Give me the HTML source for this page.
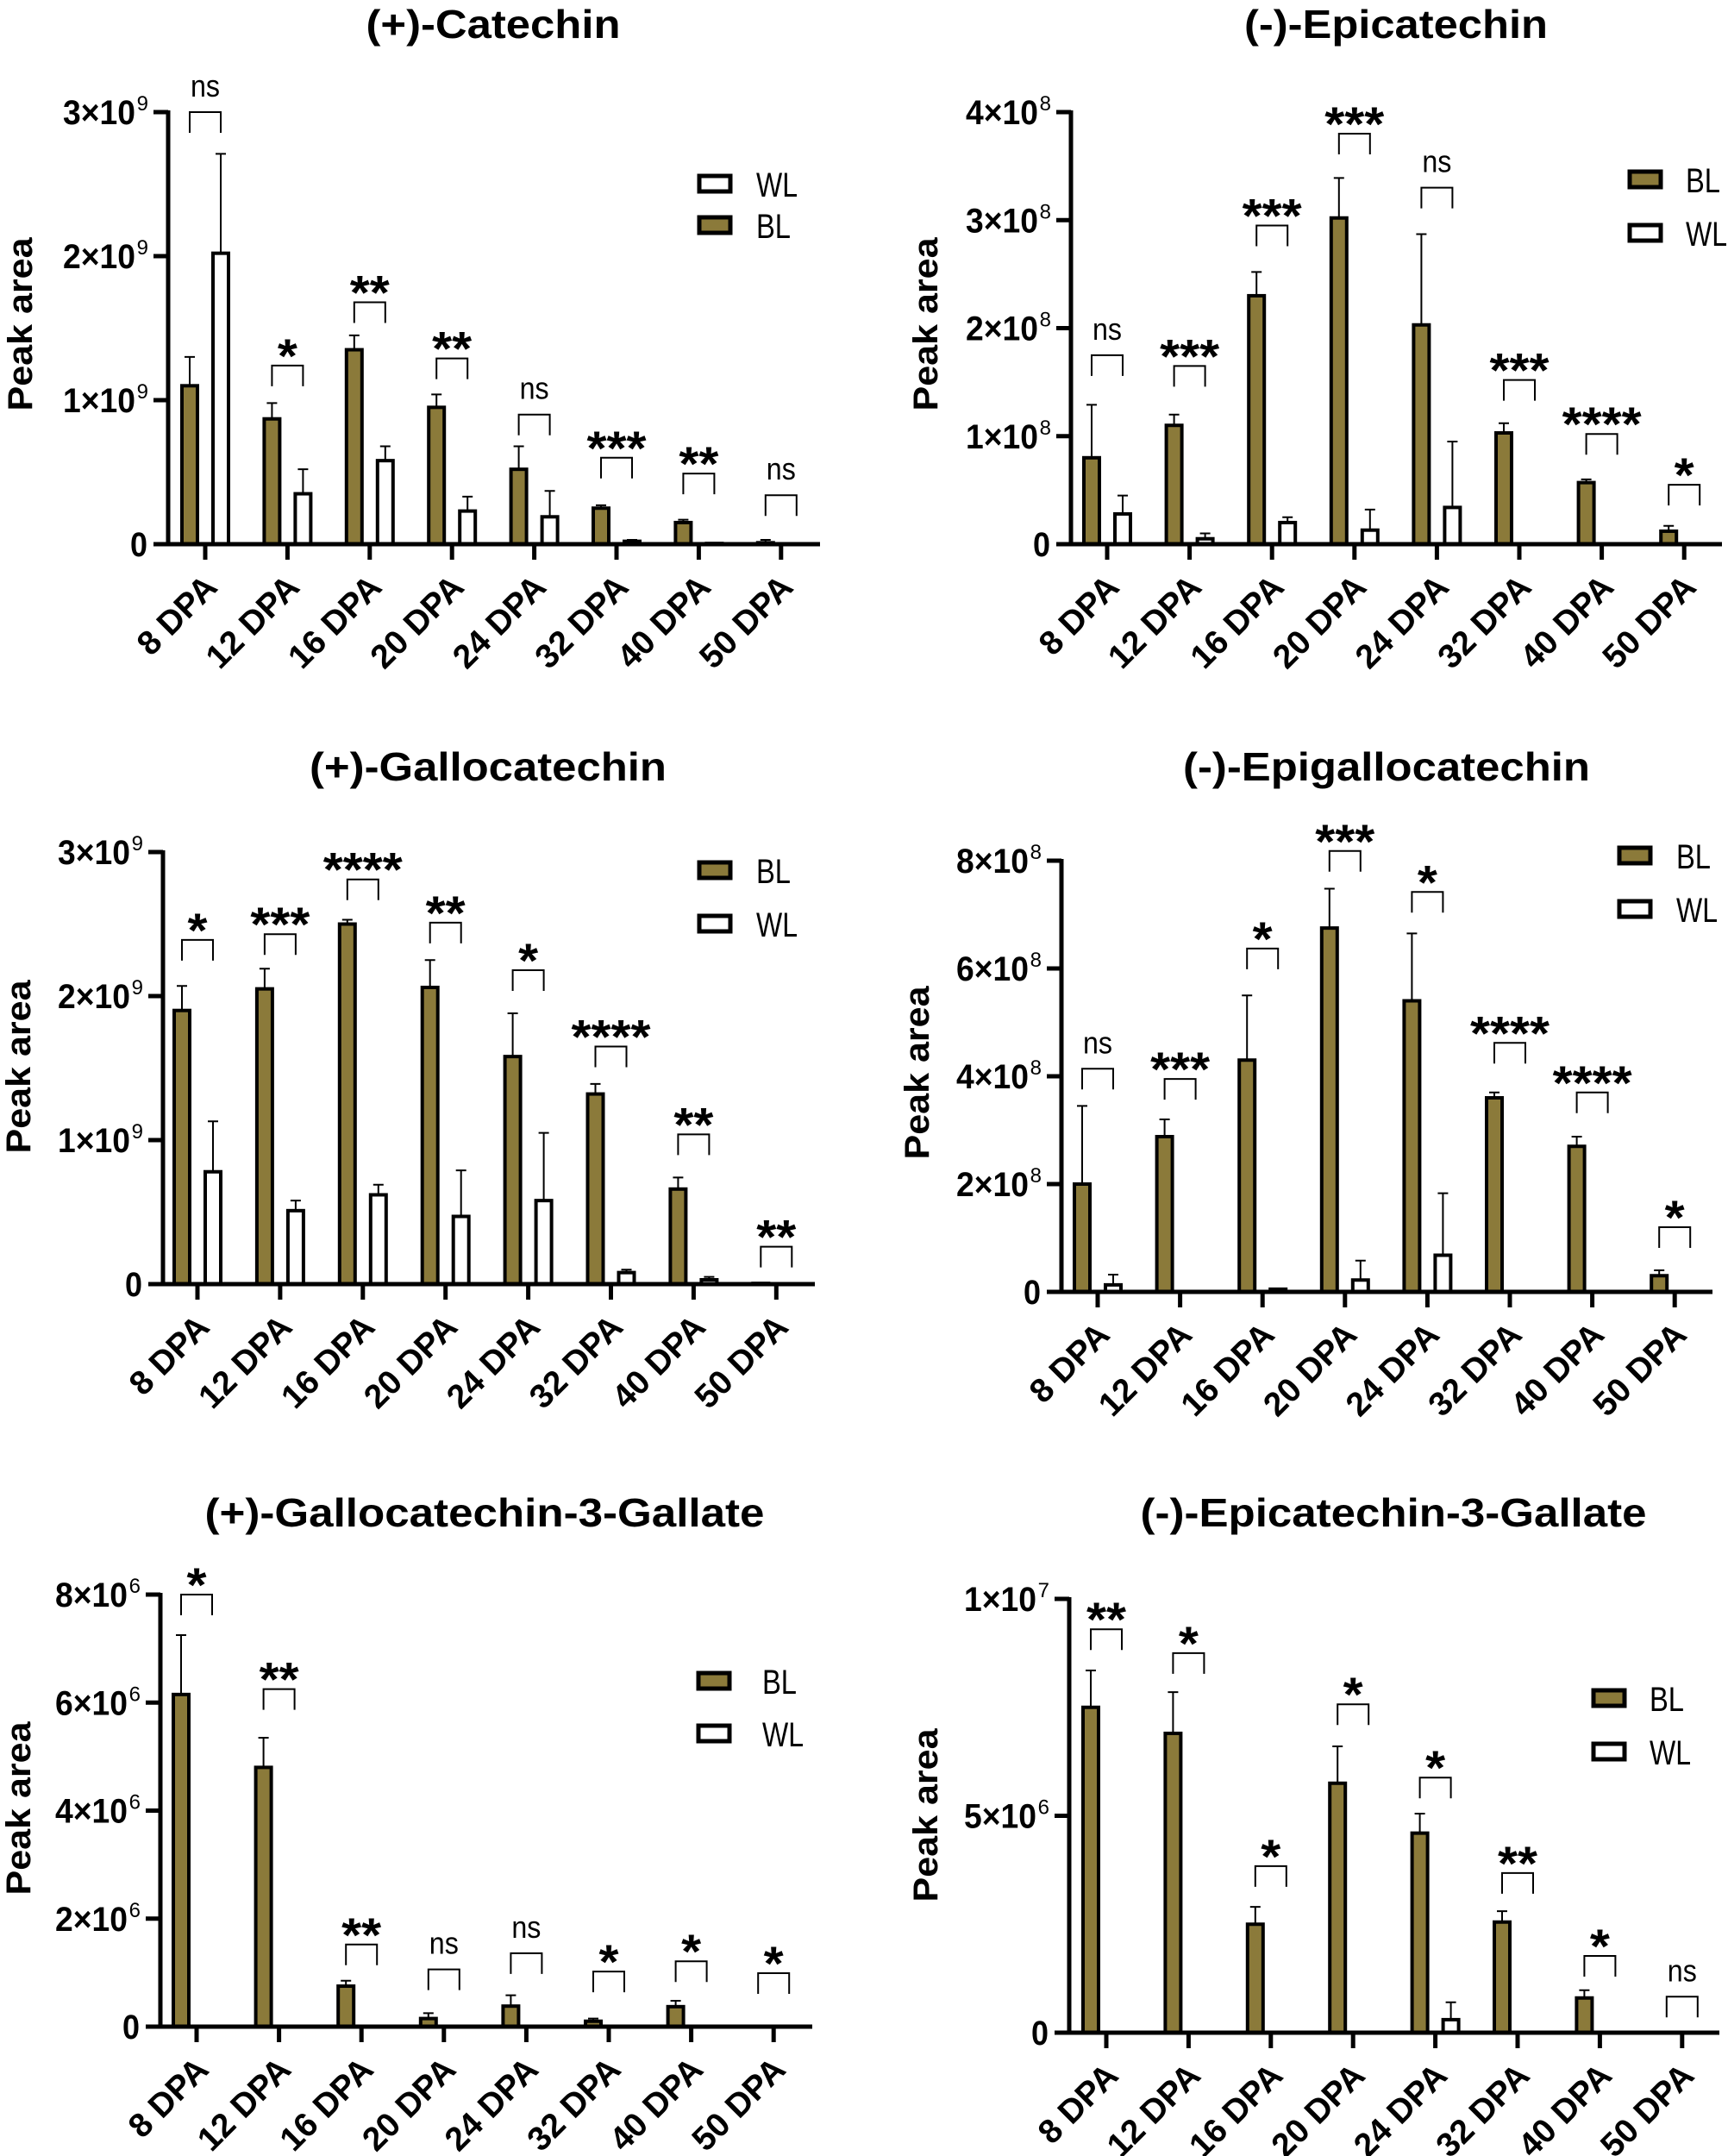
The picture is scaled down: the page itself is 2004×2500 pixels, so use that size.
<!DOCTYPE html>
<html><head><meta charset="utf-8"><style>
html,body{margin:0;padding:0;background:#fff;}
svg{display:block;}
</style></head><body>
<svg id="fig" xmlns="http://www.w3.org/2000/svg" width="2004" height="2500" viewBox="0 0 2004 2500"></svg>
<script>
const categories=['8 DPA','12 DPA','16 DPA','20 DPA','24 DPA','32 DPA','40 DPA','50 DPA'];

// (+)-Catechin (x1e9)
const catBL=[1.1,0.87,1.35,0.95,0.52,0.25,0.15,0.01];
const catBLerr=[1.3,0.98,1.45,1.04,0.68,0.27,0.17,0.03];
const catWL=[2.02,0.35,0.58,0.23,0.19,0.02,0.005,0];
const catWLerr=[2.71,0.52,0.68,0.33,0.37,0.03,0.007,0];
const catSig=['ns','*','**','**','ns','***','**','ns'];
const catBracket=[3.0,1.24,1.68,1.29,0.9,0.6,0.49,0.34];
const catTicks=[0,1,2,3];
const catTickLabels=['0','1×10|9','2×10|9','3×10|9'];

// (-)-Epicatechin (x1e8)
const epiBL=[0.8,1.1,2.3,3.02,2.03,1.03,0.57,0.12];
const epiBLerr=[1.29,1.2,2.52,3.39,2.87,1.12,0.6,0.17];
const epiWL=[0.28,0.05,0.2,0.13,0.34,0,0,0];
const epiWLerr=[0.45,0.1,0.25,0.32,0.95,0,0,0];
const epiSig=['ns','***','***','***','ns','***','****','*'];
const epiBracket=[1.75,1.65,2.95,3.8,3.3,1.52,1.02,0.55];
const epiTicks=[0,1,2,3,4];
const epiTickLabels=['0','1×10|8','2×10|8','3×10|8','4×10|8'];

// (+)-Gallocatechin (x1e9)
const gcBL=[1.9,2.05,2.5,2.06,1.58,1.32,0.66,0.005];
const gcBLerr=[2.07,2.19,2.53,2.25,1.88,1.39,0.74,0.005];
const gcWL=[0.78,0.51,0.62,0.47,0.58,0.08,0.03,0];
const gcWLerr=[1.13,0.58,0.69,0.79,1.05,0.1,0.05,0];
const gcSig=['*','***','****','**','*','****','**','**'];
const gcBracket=[2.39,2.43,2.81,2.51,2.18,1.65,1.04,0.26];
const gcTicks=[0,1,2,3];
const gcTickLabels=['0','1×10|9','2×10|9','3×10|9'];

// (-)-Epigallocatechin (x1e8)
const egcBL=[2.0,2.88,4.3,6.75,5.4,3.6,2.7,0.3];
const egcBLerr=[3.45,3.2,5.5,7.48,6.65,3.7,2.88,0.4];
const egcWL=[0.13,0,0.05,0.22,0.68,0,0,0];
const egcWLerr=[0.32,0,0.06,0.58,1.83,0,0,0];
const egcSig=['ns','***','*','***','*','****','****','*'];
const egcBracket=[4.14,3.95,6.37,8.18,7.42,4.62,3.7,1.2];
const egcTicks=[0,2,4,6,8];
const egcTickLabels=['0','2×10|8','4×10|8','6×10|8','8×10|8'];

// (+)-Gallocatechin-3-Gallate (x1e6)
const gcgBL=[6.15,4.8,0.75,0.15,0.38,0.1,0.37,0];
const gcgBLerr=[7.25,5.35,0.85,0.25,0.58,0.15,0.48,0];
const gcgWL=[0,0,0,0,0,0,0,0];
const gcgWLerr=[0,0,0,0,0,0,0,0];
const gcgSig=['*','**','**','ns','ns','*','*','*'];
const gcgBracket=[8.0,6.25,1.52,1.06,1.36,1.02,1.21,0.99];
const gcgTicks=[0,2,4,6,8];
const gcgTickLabels=['0','2×10|6','4×10|6','6×10|6','8×10|6'];

// (-)-Epicatechin-3-Gallate (x1e6)
const ecgBL=[7.5,6.9,2.5,5.75,4.6,2.55,0.8,0];
const ecgBLerr=[8.35,7.85,2.9,6.6,5.05,2.8,0.98,0];
const ecgWL=[0,0,0,0,0.3,0,0,0];
const ecgWLerr=[0,0,0,0,0.7,0,0,0];
const ecgSig=['**','*','*','*','*','**','*','ns'];
const ecgBracket=[9.3,8.75,3.84,7.57,5.88,3.68,1.77,0.83];
const ecgTicks=[0,5,10];
const ecgTickLabels=['0','5×10|6','1×10|7'];

const OLIVE='#8b7a3a';
const NS='http://www.w3.org/2000/svg';
const svg=document.getElementById('fig');
const SANS='"Liberation Sans",sans-serif';

function mk(tag,attrs,parent){const e=document.createElementNS(NS,tag);for(const k in attrs)e.setAttribute(k,attrs[k]);(parent||svg).appendChild(e);return e;}

const panels=[
 {key:'catechin',title:'(+)-Catechin',titleW:295,titleX:572,titleY:44,ax:195,zeroY:631,topY:130,max:3,x0:238,step:95.4,axEnd:951,
  ticks:catTicks,tickLabels:catTickLabels,bl:catBL,blErr:catBLerr,wl:catWL,wlErr:catWLerr,sig:catSig,br:catBracket,
  leg:{x:809,order:['WL','BL'],y:[202,250],tx:877},ylab:{x:23,y:376}},
 {key:'epicatechin',title:'(-)-Epicatechin',titleW:352,titleX:1619,titleY:44,ax:1242,zeroY:631,topY:130,max:4,x0:1284,step:95.6,axEnd:1997,
  ticks:epiTicks,tickLabels:epiTickLabels,bl:epiBL,blErr:epiBLerr,wl:epiWL,wlErr:epiWLerr,sig:epiSig,br:epiBracket,
  leg:{x:1888,order:['BL','WL'],y:[197,259],tx:1955},ylab:{x:1073,y:376}},
 {key:'gallocatechin',title:'(+)-Gallocatechin',titleW:414,titleX:566,titleY:905,ax:189,zeroY:1489,topY:988,max:3,x0:229,step:95.9,axEnd:945,
  ticks:gcTicks,tickLabels:gcTickLabels,bl:gcBL,blErr:gcBLerr,wl:gcWL,wlErr:gcWLerr,sig:gcSig,br:gcBracket,
  leg:{x:809,order:['BL','WL'],y:[998,1060],tx:877},ylab:{x:21,y:1237}},
 {key:'epigallocatechin',title:'(-)-Epigallocatechin',titleW:472,titleX:1608,titleY:905,ax:1231,zeroY:1498,topY:998,max:8,x0:1273,step:95.6,axEnd:1986,
  ticks:egcTicks,tickLabels:egcTickLabels,bl:egcBL,blErr:egcBLerr,wl:egcWL,wlErr:egcWLerr,sig:egcSig,br:egcBracket,
  leg:{x:1876,order:['BL','WL'],y:[981,1043],tx:1944},ylab:{x:1063,y:1244}},
 {key:'gallocatechin-3-gallate',title:'(+)-Gallocatechin-3-Gallate',titleW:649,titleX:562,titleY:1770,ax:186,zeroY:2350,topY:1849,max:8,x0:228,step:95.6,axEnd:942,
  ticks:gcgTicks,tickLabels:gcgTickLabels,bl:gcgBL,blErr:gcgBLerr,wl:gcgWL,wlErr:gcgWLerr,sig:gcgSig,br:gcgBracket,
  leg:{x:808,order:['BL','WL'],y:[1938,1999],tx:884},ylab:{x:21,y:2097}},
 {key:'epicatechin-3-gallate',title:'(-)-Epicatechin-3-Gallate',titleW:587,titleX:1616,titleY:1770,ax:1240,zeroY:2357,topY:1854,max:10,x0:1283,step:95.4,axEnd:1994,
  ticks:ecgTicks,tickLabels:ecgTickLabels,bl:ecgBL,blErr:ecgBLerr,wl:ecgWL,wlErr:ecgWLerr,sig:ecgSig,br:ecgBracket,
  leg:{x:1846,order:['BL','WL'],y:[1958,2020],tx:1913},ylab:{x:1073,y:2105}}
];

panels.forEach(p=>{
  const g=mk('g',{});
  
  
  const yS=v=>p.zeroY-v/p.max*(p.zeroY-p.topY);
  const xS=i=>p.x0+i*p.step;

  const t=mk('text',{x:p.titleX,y:p.titleY,'text-anchor':'middle','font-family':SANS,'font-weight':'bold','font-size':46,textLength:p.titleW,lengthAdjust:'spacingAndGlyphs',fill:'#000'},g);
  t.textContent=p.title;
  
  

  const yl=mk('text',{x:0,y:0,transform:`translate(${p.ylab.x+14},${p.ylab.y}) rotate(-90)`,'text-anchor':'middle','font-family':SANS,'font-weight':'bold','font-size':40,textLength:201,lengthAdjust:'spacingAndGlyphs'},g);
  yl.textContent='Peak area';
  
  

  const drawBar=(v,e,cx,fill,name)=>{
    if(e>v){
      const el=mk('path',{d:`M${cx},${yS(v)} V${yS(e)} M${cx-6},${yS(e)} H${cx+6}`,stroke:'#000','stroke-width':2,fill:'none'},g);
      
      
    }
    const h=p.zeroY-yS(v);
    if(h>0.5){
      const r=mk('rect',{x:cx-9,y:yS(v),width:18,height:h,fill:fill,stroke:'#000','stroke-width':4},g);
      
      
    }
  };
  categories.forEach((c,i)=>{
    const tx=xS(i);
    drawBar(p.bl[i],p.blErr[i],tx-18,OLIVE,'bar-bl-'+i);
    drawBar(p.wl[i],p.wlErr[i],tx+18,'#fff','bar-wl-'+i);
    const by=yS(p.br[i]);
    const b=mk('path',{d:`M${tx-18},${by+24} V${by} H${tx+18} V${by+24}`,stroke:'#000','stroke-width':2,fill:'none'},g);
    
    
    const s=p.sig[i];
    let st;
    if(s==='ns'){
      st=mk('text',{x:tx,y:by-18,'text-anchor':'middle','font-family':SANS,'font-size':36,textLength:34,lengthAdjust:'spacingAndGlyphs'},g);
    }else{
      st=mk('text',{x:tx,y:by+8,'text-anchor':'middle','font-family':SANS,'font-weight':'bold','font-size':56,textLength:s.length*23,lengthAdjust:'spacingAndGlyphs'},g);
    }
    st.textContent=s;
    
    
    const xl=mk('text',{x:0,y:0,transform:`translate(${tx+16},${p.zeroY+52}) rotate(-45)`,'text-anchor':'end','font-family':SANS,'font-weight':'bold','font-size':39},g);
    xl.textContent=c;
    
    
    const tk=mk('line',{x1:tx,y1:p.zeroY,x2:tx,y2:p.zeroY+18,stroke:'#000','stroke-width':5},g);
    
    
  });

  const ya=mk('line',{x1:p.ax,y1:p.topY-2,x2:p.ax,y2:p.zeroY,stroke:'#000','stroke-width':5},g);
  
  
  const xa=mk('line',{x1:p.ax-17,y1:p.zeroY,x2:p.axEnd,y2:p.zeroY,stroke:'#000','stroke-width':5},g);
  
  
  p.ticks.forEach((v,i)=>{
    const y=yS(v);
    const tl=mk('line',{x1:p.ax-17,y1:y,x2:p.ax,y2:y,stroke:'#000','stroke-width':5},g);
    
    
    const parts=p.tickLabels[i].split('|');
    if(parts[1]){
      const sup=mk('text',{x:p.ax-23,y:y-2,'text-anchor':'end','font-family':SANS,'font-size':24},g);
      sup.textContent=parts[1];
      
      
      const lt=mk('text',{x:p.ax-122,y:y+14,'font-family':SANS,'font-weight':'bold','font-size':40,textLength:84,lengthAdjust:'spacingAndGlyphs'},g);
      lt.textContent=parts[0];
      
      
    }else{
      const lt=mk('text',{x:p.ax-24,y:y+14,'text-anchor':'end','font-family':SANS,'font-weight':'bold','font-size':40,textLength:20,lengthAdjust:'spacingAndGlyphs'},g);
      lt.textContent=parts[0];
      
      
    }
  });

  p.leg.order.forEach((nm,i)=>{
    const y=p.leg.y[i];
    const lb=mk('rect',{x:p.leg.x+2,y:y+2,width:36,height:18,fill:nm==='BL'?OLIVE:'#fff',stroke:'#000','stroke-width':5},g);
    
    
    const lt=mk('text',{x:p.leg.tx,y:y+26,'font-family':SANS,'font-size':40,textLength:nm==='BL'?40:48,lengthAdjust:'spacingAndGlyphs'},g);
    lt.textContent=nm;
    
    
  });
});
</script>
</body></html>
